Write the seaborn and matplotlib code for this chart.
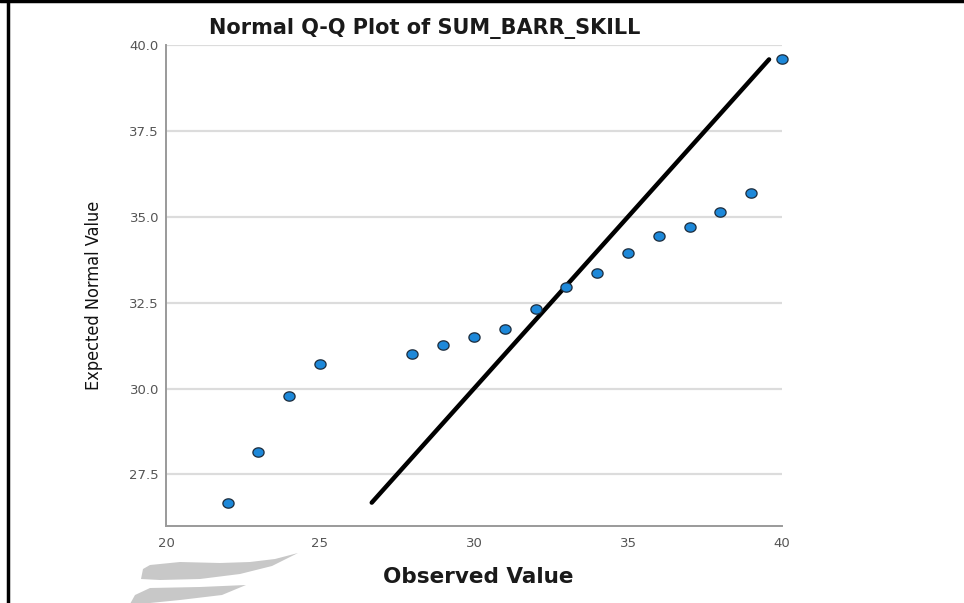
import numpy as np
import pandas as pd
import matplotlib
matplotlib.use("Agg")
import matplotlib.pyplot as plt
from matplotlib.lines import Line2D
from matplotlib.patches import Polygon
import seaborn as sns

# Observed scores and their expected normal quantiles
observed = [22, 23, 24, 25, 28, 29, 30, 31, 32, 33, 34, 35, 36, 37, 38, 39, 40]
expected = [26.68, 28.15, 29.78, 30.71, 31.00, 31.27, 31.51, 31.72, 32.31,
            32.96, 33.37, 33.94, 34.44, 34.69, 35.13, 35.68, 39.58]
x_ticks = [20, 25, 30, 35, 40]
y_ticks = [27.5, 30.0, 32.5, 35.0, 37.5, 40.0]

df = pd.DataFrame({"Observed Value": observed, "Expected Normal Value": expected})
ref = pd.DataFrame({"x": [min(expected), max(expected)],
                    "y": [min(expected), max(expected)]})

sns.set_theme(style="white")
plt.rcParams["font.family"] = ["DejaVu Sans"]

W, H = 964, 603
fig = plt.figure(figsize=(W / 100, H / 100), dpi=100)
ax = fig.add_axes([0.1722, 0.1277, 0.639, 0.7977])

# horizontal reference grid
for yv in y_ticks:
    ax.axhline(yv, color="#dcdcdc", lw=1.6, zorder=0)

# identity line y = x
sns.lineplot(data=ref, x="x", y="y", ax=ax, color="black", lw=3.2,
             zorder=2, legend=False)

# slightly wide ellipse marker
t = np.linspace(0, 2 * np.pi, 40)
ell = np.column_stack([1.2 * np.cos(t), np.sin(t)])
sns.scatterplot(data=df, x="Observed Value", y="Expected Normal Value", ax=ax,
                marker=ell, s=65, color="#1d88d9", edgecolor="#1b2a3a",
                linewidth=0.9, zorder=3, clip_on=False)

ax.set_xlim(20, 40)
ax.set_ylim(26.0, 40.0)
ax.set_xticks(x_ticks)
ax.set_xticklabels([str(v) for v in x_ticks])
ax.set_yticks(y_ticks)
ax.set_yticklabels([f"{v:.1f}" for v in y_ticks])
ax.tick_params(axis="both", length=0, labelsize=9.5, labelcolor="#555555")
ax.tick_params(axis="y", pad=5)
ax.tick_params(axis="x", pad=8)

for side in ("top", "right"):
    ax.spines[side].set_visible(False)
for side in ("left", "bottom"):
    ax.spines[side].set_color("#9a9a9a")
    ax.spines[side].set_linewidth(1.4)

ax.set_xlabel("")
ax.set_ylabel("")

fig.text(0.441, 0.953, "Normal Q-Q Plot of SUM_BARR_SKILL", ha="center",
         va="center", fontsize=15, fontweight="bold", color="#1a1a1a")
fig.text(0.496, 0.043, "Observed Value", ha="center", va="center",
         fontsize=15.5, fontweight="bold", color="#1a1a1a")
fig.text(0.097, 0.51, "Expected Normal Value", ha="center", va="center",
         rotation=90, fontsize=13, color="#111111",
         family=["DejaVu Sans"], fontstretch="condensed")


def px(points):
    return [(x / W, 1 - y / H) for x, y in points]


# gray swoosh emblem at lower left
sw1 = px([(150, 565), (180, 562), (220, 563), (250, 562), (275, 559),
          (298, 553), (272, 566), (240, 574), (200, 579), (160, 580),
          (141, 579), (143, 569)])
sw2 = px([(150, 588), (200, 587), (246, 585), (222, 595), (180, 600),
          (140, 604), (130, 604), (135, 595)])
for pts in (sw1, sw2):
    fig.add_artist(Polygon(pts, closed=True, transform=fig.transFigure,
                           facecolor="#c8c8c8", edgecolor="none", zorder=0))

# outer frame: top and left edges
fig.add_artist(Line2D([0.0, 1.0], [0.998, 0.998], transform=fig.transFigure,
                      color="black", lw=2.5))
fig.add_artist(Line2D([0.0088, 0.0088], [0.0, 1.0], transform=fig.transFigure,
                      color="black", lw=2.5))

fig.savefig("out.png", dpi=100)
